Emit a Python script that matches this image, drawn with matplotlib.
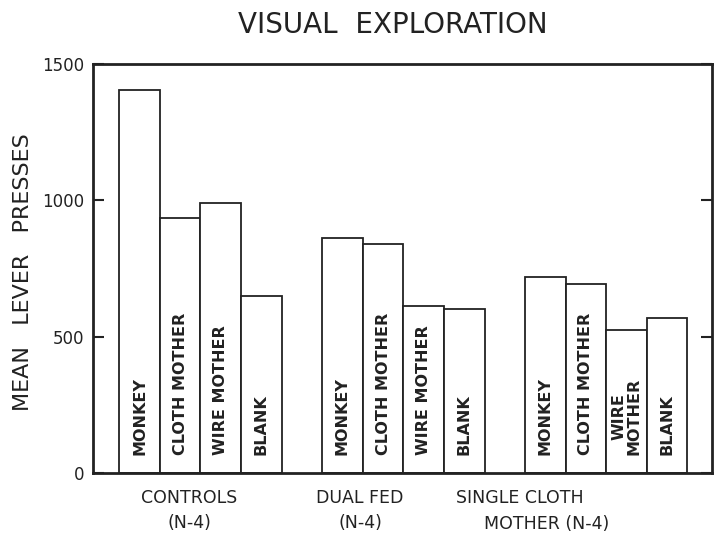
import numpy as np
import matplotlib
matplotlib.use("Agg")
import matplotlib.pyplot as plt

# mean lever presses
groups = ["CONTROLS\n(N-4)", "DUAL FED\n(N-4)", "SINGLE CLOTH\nMOTHER (N-4)"]
stimuli = ["MONKEY", "CLOTH MOTHER", "WIRE MOTHER", "BLANK"]
controls = [1404, 936, 989, 649]
dual_fed = [861, 840, 612, 601]
single_cloth = [720, 692, 524, 567]
# single cloth group has the wire label split in two lines
bar_labels = [stimuli, stimuli, ["MONKEY", "CLOTH MOTHER", "WIRE\nMOTHER", "BLANK"]]
y_ticks = [0, 500, 1000, 1500]

ink = "#222222"
plt.rcParams['font.family'] = ['DejaVu Sans']

fig = plt.figure(figsize=(7.15, 5.41), dpi=100)
ax = fig.add_axes([0.130, 0.1257, 0.866, 0.756])

data = [controls, dual_fed, single_cloth]
for g, vals in enumerate(data):
    x = 5 * g + np.arange(len(vals))
    ax.bar(x, vals, width=1.0, color="white", edgecolor=ink, linewidth=1.3, zorder=2)
    for xi, lab in zip(x, bar_labels[g]):
        ax.annotate(lab, (xi, 0), xytext=(0, 13), textcoords="offset points",
                    rotation=90, ha="center", va="bottom", multialignment="center",
                    fontsize=11.5, fontweight="bold", color=ink, linespacing=1.0)

ax.set_xlim(-1.15, 14.11)
ax.set_ylim(0, 1500)
ax.set_xticks([])
ax.set_yticks(y_ticks)
ax.set_yticklabels([str(t) for t in y_ticks], fontsize=12, color=ink)
ax.tick_params(axis="y", direction="in", length=8, width=1.5, pad=6,
               left=True, right=True, colors=ink, labelcolor=ink)
for s in ax.spines.values():
    s.set_linewidth(2.0)
    s.set_color(ink)

# group labels below the axis
xt = ax.get_xaxis_transform()
ax.text(1.22, -0.038, "CONTROLS\n(N-4)", transform=xt,
        ha="center", va="top", fontsize=12.5, color=ink, linespacing=1.55)
ax.text(5.43, -0.038, "DUAL FED\n(N-4)", transform=xt,
        ha="center", va="top", fontsize=12.5, color=ink, linespacing=1.55)
ax.text(7.80, -0.038, "SINGLE CLOTH", transform=xt,
        ha="left", va="top", fontsize=12.5, color=ink)
ax.text(8.49, -0.103, "MOTHER (N-4)", transform=xt,
        ha="left", va="top", fontsize=12.5, color=ink)

ax.set_ylabel("MEAN   LEVER   PRESSES", fontsize=16, color=ink)
ax.yaxis.set_label_coords(-0.097, 0.49)
fig.text(0.55, 0.954, "VISUAL  EXPLORATION", ha="center", va="center",
         fontsize=20, color=ink)

fig.savefig("out.png", dpi=100, facecolor="white")
